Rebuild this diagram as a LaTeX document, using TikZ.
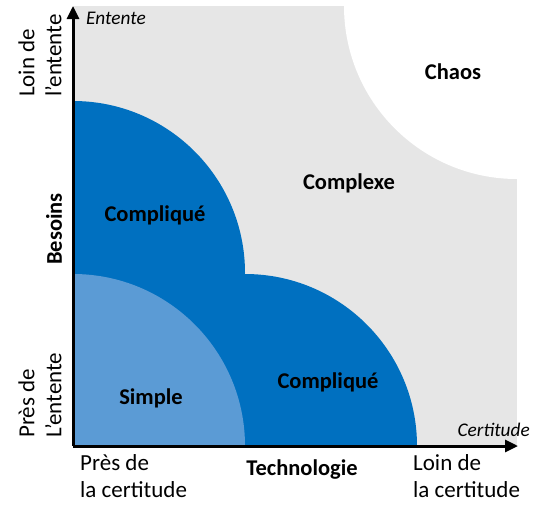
\documentclass[tikz,border=0pt]{standalone}
\usepackage{fontspec}
\setmainfont{Carlito}
\usepackage{xcolor}
\usetikzlibrary{arrows.meta,positioning}
\definecolor{zonegray}{HTML}{E6E6E6}
\definecolor{darkblue}{HTML}{0070C0}
\definecolor{lightblue}{HTML}{5B9BD5}
\tikzset{
  zone/.style={font=\fontsize{22.5}{27}\selectfont\bfseries},
  lbl/.style={font=\fontsize{23}{27}\selectfont,align=left,inner sep=0pt},
  axname/.style={font=\fontsize{19.3}{23}\selectfont\itshape,inner sep=0pt},
  axis/.style={line width=3pt,-{Triangle[length=13pt,width=12pt]}},
}
\begin{document}
\begin{tikzpicture}[x=1pt,y=-1pt]
\useasboundingbox (0,0) rectangle (534,506);
\fill[zonegray] (73,6) rectangle (517,446);
\fill[white] (517,6) -- (344,6) arc[start angle=180,end angle=90,radius=173] -- cycle;
% dark blue: two quarter discs and the square between them
\fill[darkblue] (73,273) rectangle (245,446);
\fill[darkblue] (73,273) -- (245,273) arc[start angle=0,end angle=-90,radius=172] -- cycle;
\fill[darkblue] (245,446) -- (417,446) arc[start angle=0,end angle=-90,radius=172] -- cycle;
\fill[lightblue] (73,446) -- (245,446) arc[start angle=0,end angle=-90,radius=172] -- cycle;

\coordinate (o) at (73,446);
\coordinate (ytop) at (73,6);
\coordinate (xend) at (518,446);
\draw[axis] (o) -- (ytop);
\draw[axis] (o.center) -- (xend);

\node[zone] (chaos) at (453,72) {Chaos};
\node[zone] (complexe) at (349,183) {Complexe};
\node[zone] (comp1) at (155,215) {Compliqué};
\node[zone] (comp2) at (328,382) {Compliqué};
\node[zone] (simple) at (151,398) {Simple};

\node[zone] (techno) at (302,470) {Technologie};
\node[zone,rotate=90] (besoins) at (54,229) {Besoins};
\node[axname,anchor=west] (entente) at (86,18) {Entente};
\node[axname,anchor=east] (certitude) at (530,430) {Certitude};

\node[lbl,anchor=north west] (xlow) at (80,454) {Près de\\la certitude};
\node[lbl,anchor=north west] (xhigh) at (413,454) {Loin de\\la certitude};
\node[lbl,rotate=90,anchor=west] (yhigh) at (40,97) {Loin de\\l’entente};
\node[lbl,rotate=90,anchor=west] (ylow) at (40,438) {Près de\\L’entente};
\end{tikzpicture}
\end{document}
